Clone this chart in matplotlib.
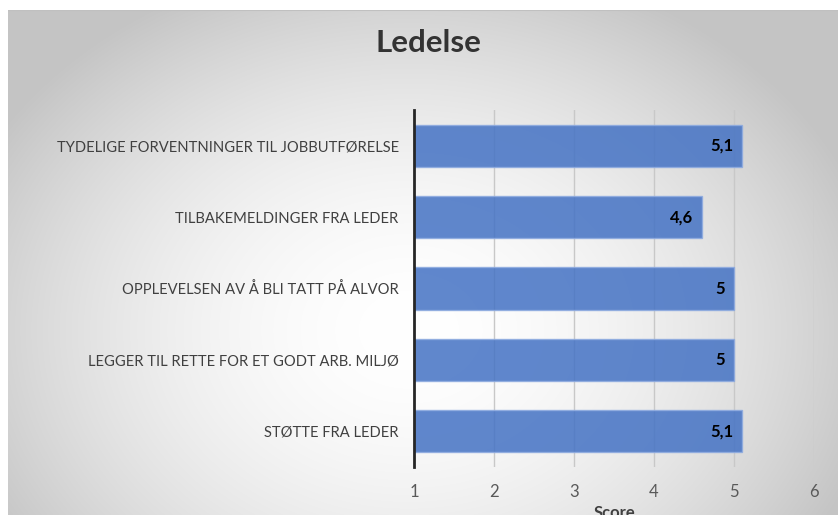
import numpy as np
import matplotlib
matplotlib.use("Agg")
import matplotlib.pyplot as plt

categories = [
    "TYDELIGE FORVENTNINGER TIL JOBBUTFØRELSE",
    "TILBAKEMELDINGER FRA LEDER",
    "OPPLEVELSEN AV Å BLI TATT PÅ ALVOR",
    "LEGGER TIL RETTE FOR ET GODT ARB. MILJØ",
    "STØTTE FRA LEDER",
]
values = [5.1, 4.6, 5.0, 5.0, 5.1]
value_labels = ["5,1", "4,6", "5", "5", "5,1"]
xticks = [1, 2, 3, 4, 5, 6]

W, H = 838, 515
fig = plt.figure(figsize=(W / 100, H / 100), dpi=100)
fig.patch.set_facecolor("white")

# background radial gradient
bg = fig.add_axes([8 / W, 0, 1 - 8 / W, 1 - 10 / H], zorder=0)
yy, xx = np.mgrid[0:505, 0:830]
cx, cy = 400, 320
r = np.sqrt(((xx - cx) / 480.0) ** 2 + ((yy - cy) / 380.0) ** 2)
val = 1.0 - 0.23 * np.clip(r, 0, 1.0) ** 1.8
img = np.dstack([val, val, val])
bg.imshow(img, aspect="auto", extent=[0, 1, 0, 1], origin="upper")
bg.axhline(1.0, color="#c0c0c0", lw=1.5)
bg.set_axis_off()

font = ["Lato", "DejaVu Sans"]

ax = fig.add_axes([414 / W, 1 - 467 / H, 400 / W, 357 / H], zorder=1)
ax.patch.set_alpha(0)
ypos = np.arange(len(categories))
bars = ax.barh(ypos, [v - 1 for v in values], left=1, height=0.59,
               color="#4472C4", alpha=0.85, edgecolor="#8eabe0", linewidth=1, zorder=2)
for y, v, lab in zip(ypos, values, value_labels):
    ax.text(v - 0.11, y, lab, ha="right", va="center", fontsize=12,
            fontweight="bold", color="black", family=font, zorder=3)

ax.set_xlim(1, 6)
ax.set_ylim(len(categories) - 0.5, -0.5)
ax.set_yticks(ypos)
ax.set_yticklabels(categories, family=font, fontsize=10.6, color="#404040")
ax.set_xticks(xticks)
ax.set_xticklabels([str(t) for t in xticks], family=font, fontsize=12, color="#595959")
ax.tick_params(axis="both", length=0)
ax.tick_params(axis="y", pad=11)
ax.tick_params(axis="x", pad=12)
for t in xticks[1:]:
    ax.axvline(t, color="#c8c8c8", lw=1, zorder=1)
for s in ["top", "right", "bottom"]:
    ax.spines[s].set_visible(False)
ax.spines["left"].set_color("#262626")
ax.spines["left"].set_linewidth(2)
ax.spines["left"].set_zorder(4)
ax.set_xlabel("Score", family=font, fontsize=12, fontweight="bold", color="#404040", labelpad=4)

fig.text(428 / W, 1 - 43 / H, "Ledelse", ha="center", va="center", fontsize=22.5,
         fontweight="bold", color="#333333", family=font)

fig.savefig("out.png", dpi=100)
